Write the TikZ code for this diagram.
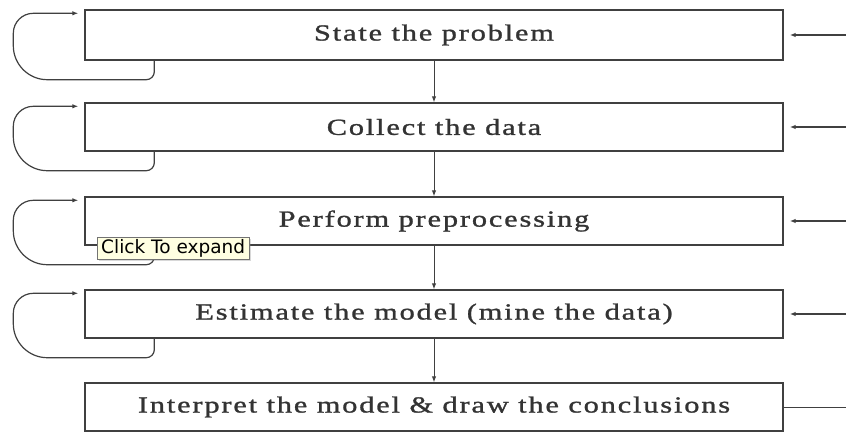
\documentclass[tikz,border=0pt]{standalone}
\usepackage{fontspec}
\setmainfont{Liberation Serif}[FakeStretch=1.32,LetterSpace=8,FakeBold=1.2]
\newfontfamily\tipfont{DejaVu Sans}
\usetikzlibrary{arrows.meta,shadows}
\definecolor{tipyellow}{RGB}{255,255,225}
\tikzset{
  stage/.style={draw=black!75, line width=1.4pt, minimum width=698pt, minimum height=48pt, inner sep=0pt, font=\fontsize{23}{26}\selectfont, text=black!80},
  arr/.style={-{Latex[length=6pt,width=4.5pt]}, draw=black!75, line width=1pt},
  fb/.style={arr, line width=1.2pt, shorten >=6pt},
  tipbox/.style={draw=black!55, fill=tipyellow, font=\tipfont\fontsize{18.5}{20}\selectfont, inner xsep=4pt, inner ysep=2pt, drop shadow={shadow xshift=2pt, shadow yshift=-2pt, opacity=.3}}
}
\begin{document}
\begin{tikzpicture}[x=1pt, y=-1pt]
  \useasboundingbox[fill=white] (0,0) rectangle (846,434);
  \node (b1) [stage, minimum height=50pt] at (434,35) {State the problem};
  \node (b2) [stage] at (434,127) {Collect the data};
  \node (b3) [stage] at (434,221) {Perform preprocessing};
  \node (b4) [stage] at (434,314) {Estimate the model (mine the data)};
  \node (b5) [stage] at (434,407) {Interpret the model \& draw the conclusions};
  % steps downwards
  \draw[arr] (b1) -- (b2);
  \draw[arr] (b2) -- (b3);
  \draw[arr] (b3) -- (b4);
  \draw[arr] (b4) -- (b5);
  % return lines on the right
  \foreach \i in {1,...,5}
    \coordinate (e\i) at ([xshift=63pt]b\i.east);
  \foreach \i in {1,...,4}
    \draw[fb] (e\i) -- (b\i.east);
  \draw[draw=black!75, line width=1pt] (b5.east) -- (e5);
  % loops on the left
  \foreach \i in {1,...,4}
    \draw[fb] ([xshift=70pt]b\i.south west) [rounded corners=8pt] -- ++(0,19)
      [rounded corners=34pt] -- ++(-141,0) [rounded corners=20pt] |- ([yshift=-4pt]b\i.north west);
  \node (tip) [tipbox, anchor=north west] at (97,237) {Click To expand};
\end{tikzpicture}
\end{document}
